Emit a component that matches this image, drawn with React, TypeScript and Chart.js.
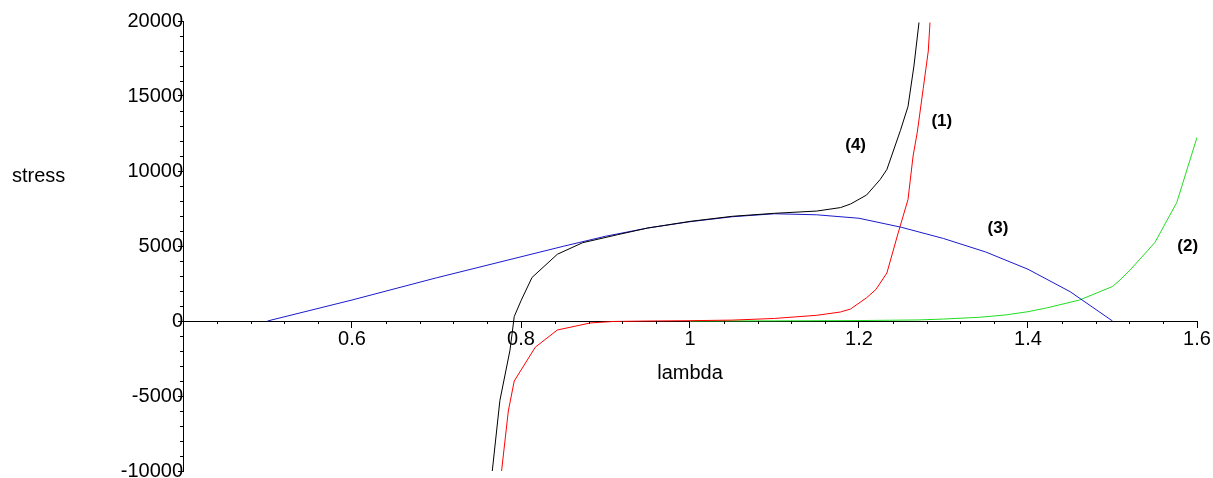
import React, { useEffect, useRef } from 'react';
import { Chart, registerables } from 'chart.js';

Chart.register(...registerables);

// ---- data ----
const curve1Lambda = [0.777, 0.785, 0.792, 0.817, 0.843, 0.882, 0.91, 0.95, 1.0, 1.05, 1.1, 1.15, 1.178, 1.19, 1.209, 1.22, 1.233, 1.246, 1.258, 1.264, 1.269, 1.276, 1.282, 1.284];
const curve1Stress = [-10000, -6000, -4000, -1740, -600, -130, -30, 0, 20, 60, 170, 380, 600, 800, 1550, 2100, 3200, 5800, 8100, 11000, 12600, 15500, 18000, 19900];

const curve2Lambda = [1.0, 1.1, 1.2, 1.27, 1.3, 1.343, 1.373, 1.4, 1.422, 1.461, 1.5, 1.509, 1.521, 1.55, 1.576, 1.6];
const curve2Stress = [0, 10, 30, 70, 130, 250, 400, 620, 870, 1400, 2300, 2740, 3410, 5220, 7890, 12240];

const curve3Lambda = [0.5, 0.6, 0.7, 0.8, 0.85, 0.9, 0.95, 1.0, 1.05, 1.1, 1.15, 1.2, 1.25, 1.3, 1.35, 1.4, 1.45, 1.5];
const curve3Stress = [0, 1400, 2880, 4280, 4980, 5650, 6200, 6620, 6950, 7150, 7080, 6850, 6250, 5500, 4600, 3450, 1950, 0];

const curve4Lambda = [0.766, 0.775, 0.787, 0.792, 0.8, 0.813, 0.843, 0.873, 0.914, 0.95, 1.0, 1.05, 1.1, 1.15, 1.178, 1.19, 1.209, 1.225, 1.233, 1.249, 1.258, 1.265, 1.271];
const curve4Stress = [-10000, -5300, -1940, 300, 1350, 2900, 4450, 5220, 5750, 6200, 6640, 6980, 7180, 7330, 7560, 7800, 8400, 9430, 10100, 12700, 14300, 17000, 19900];

const xTicks = [0.4, 0.6, 0.8, 1.0, 1.2, 1.4, 1.6];
const yTicks = [-10000, -5000, 0, 5000, 10000, 15000, 20000];

const curveLabels = ['(1)', '(2)', '(3)', '(4)'];
const curveLabelLambda = [1.298, 1.589, 1.3645, 1.196];
const curveLabelStress = [13330, 5000, 6200, 11730];

const xTitle = 'lambda';
const yTitle = 'stress';

const FONT = '"Liberation Sans", Arial, sans-serif';

function pts(xs: number[], ys: number[]) {
  return xs.map((v, i) => ({ x: v, y: ys[i] }));
}

const extrasPlugin = {
  id: 'extras',
  afterDraw(chart: any) {
    const { ctx, scales } = chart;
    const xs = scales.x;
    const ys = scales.y;
    const axisY = ys.getPixelForValue(0);
    const axisX = xs.getPixelForValue(xTicks[0]);
    ctx.save();
    ctx.strokeStyle = '#000';
    ctx.lineWidth = 1;
    ctx.beginPath();
    // minor x ticks every 0.04
    for (let k = 0; k <= 30; k++) {
      if (k % 5 === 0) continue;
      const v = xTicks[0] + k * 0.04;
      const px = Math.round(xs.getPixelForValue(v)) + 0.5;
      ctx.moveTo(px, Math.round(axisY));
      ctx.lineTo(px, Math.round(axisY) + 3);
    }
    // minor y ticks every 1000
    for (let k = 0; k <= 30; k++) {
      if (k % 5 === 0) continue;
      const v = yTicks[0] + k * 1000;
      const py = Math.round(ys.getPixelForValue(v)) + 0.5;
      ctx.moveTo(Math.round(axisX), py);
      ctx.lineTo(Math.round(axisX) - 3, py);
    }
    ctx.stroke();

    ctx.fillStyle = '#000';
    ctx.font = 'bold 17px ' + FONT;
    ctx.textAlign = 'center';
    ctx.textBaseline = 'middle';
    curveLabels.forEach((t, i) => {
      ctx.fillText(t, xs.getPixelForValue(curveLabelLambda[i]), ys.getPixelForValue(curveLabelStress[i]));
    });

    ctx.font = '20px ' + FONT;
    ctx.textAlign = 'center';
    ctx.fillText(xTitle, xs.getPixelForValue(1.0), axisY + 52);
    ctx.textAlign = 'left';
    ctx.fillText(yTitle, 12, ys.getPixelForValue(10000) + 5);
    ctx.restore();
  },
};

export default function App() {
  const ref = useRef<HTMLCanvasElement>(null);
  useEffect(() => {
    if (!ref.current) return;
    const ds = (label: string, xs: number[], ys: number[], color: string) => ({
      label,
      data: pts(xs, ys),
      borderColor: color,
      backgroundColor: color,
      borderWidth: 1,
      pointRadius: 0,
      tension: 0,
      fill: false,
    });
    const chart = new Chart(ref.current, {
      type: 'line',
      data: {
        datasets: [
          ds('(4)', curve4Lambda, curve4Stress, '#000000'),
          ds('(3)', curve3Lambda, curve3Stress, '#1a1acc'),
          ds('(1)', curve1Lambda, curve1Stress, '#ff0000'),
          ds('(2)', curve2Lambda, curve2Stress, '#22dd22'),
        ],
      },
      options: {
        animation: false,
        responsive: false,
        devicePixelRatio: 1,
        layout: { padding: { left: 183, right: 16, top: 21, bottom: 7 } },
        plugins: { legend: { display: false }, tooltip: { enabled: false } },
        scales: {
          x: {
            type: 'linear',
            min: 0.4,
            max: 1.6,
            position: { y: 0 } as any,
            afterBuildTicks: (s: any) => {
              s.ticks = xTicks.map((v) => ({ value: v }));
            },
            afterFit: (s: any) => {
              s.paddingLeft = 0;
              s.paddingRight = 0;
            },
            ticks: {
              color: '#000',
              padding: 0,
              font: { family: FONT, size: 20 },
              maxRotation: 0,
              autoSkip: false,
              callback: (v: any) => (Math.abs(v - 0.4) < 1e-9 ? '' : String(Number(Number(v).toFixed(2)))),
            },
            grid: { drawOnChartArea: false, drawTicks: true, tickLength: 6, color: '#000', lineWidth: 1 },
            border: { display: true, color: '#000', width: 1 },
          },
          y: {
            type: 'linear',
            min: -10000,
            max: 20000,
            position: { x: 0.4 } as any,
            afterBuildTicks: (s: any) => {
              s.ticks = yTicks.map((v) => ({ value: v }));
            },
            afterFit: (s: any) => {
              s.paddingTop = 0;
              s.paddingBottom = 0;
            },
            ticks: {
              color: '#000',
              padding: 7,
              font: { family: FONT, size: 20 },
              autoSkip: false,
              callback: (v: any) => String(v),
            },
            grid: { drawOnChartArea: false, drawTicks: true, tickLength: 5, color: '#000', lineWidth: 1 },
            border: { display: true, color: '#000', width: 1 },
          },
        },
      },
      plugins: [extrasPlugin],
    });
    return () => chart.destroy();
  }, []);
  return (
    <div style={{ position: 'absolute', left: 0, top: 0, width: 1213, height: 478, background: '#fff' }}>
      <canvas ref={ref} width={1213} height={478} />
    </div>
  );
}
